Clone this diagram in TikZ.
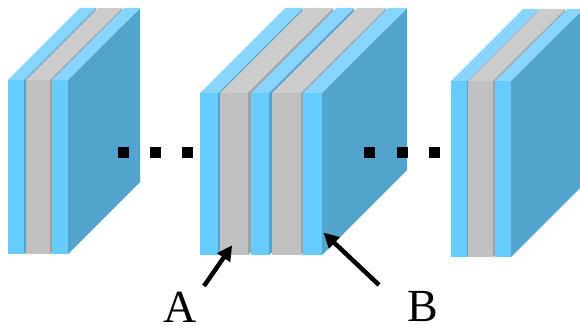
\documentclass[tikz,border=0pt]{standalone}
\usepackage{fontspec}
\setmainfont{Liberation Serif}
\usetikzlibrary{arrows.meta}

\definecolor{blueF}{HTML}{66CCFF}
\definecolor{blueT}{HTML}{88D5FF}
\definecolor{blueS}{HTML}{52A4CD}
\definecolor{grayF}{HTML}{C0C0C0}
\definecolor{grayT}{HTML}{CCCCCC}
\definecolor{grayS}{HTML}{A0A0A0}

% one slab in oblique view: left x, width, top y, bottom y, depth, front/top/side colours
\newcommand\slabbox[8]{%
  \fill[#8] ({#1+#2},#3) -- ({#1+#2+#5},{#3-#5}) -- ({#1+#2+#5},{#4-#5}) -- ({#1+#2},#4) -- cycle;
  \fill[#7] (#1,#3) -- ({#1+#5},{#3-#5}) -- ({#1+#2+#5},{#3-#5}) -- ({#1+#2},#3) -- cycle;
  \fill[#6] (#1,#3) rectangle ({#1+#2},#4);
}
\newcommand\blueslab[5]{\slabbox{#1}{#2}{#3}{#4}{#5}{blueF}{blueT}{blueS}}
\newcommand\grayslab[5]{\slabbox{#1}{#2}{#3}{#4}{#5}{grayF}{grayT}{grayS}}

\tikzset{
  dotsq/.style={fill=black, minimum size=11pt, inner sep=0pt, draw=none},
  pointer/.style={line width=4.5pt, -{Triangle[length=15pt,width=15pt]}, shorten >=-2pt},
  lbl/.style={font=\fontsize{46}{46}\selectfont, inner sep=0pt, anchor=base}
}

\begin{document}
\begin{tikzpicture}[x=1pt,y=-1pt]
\useasboundingbox (0,0) rectangle (580,326);
\clip (0,0) rectangle (580,326);

% left stack
\blueslab{8}{16}{80}{254}{72}
\grayslab{26}{24}{80}{254}{72}
\blueslab{52}{16}{80}{254}{72}

% middle stack
\blueslab{200}{18}{93}{255}{85}
\grayslab{220}{28}{93}{255}{85}
\blueslab{251}{18}{93}{255}{85}
\grayslab{272}{29}{93}{255}{85}
\blueslab{303}{19}{93}{255}{85}

% right stack
\blueslab{451}{16}{81}{257}{72}
\grayslab{468}{25}{81}{257}{72}
\blueslab{495}{16}{81}{257}{72}

% ellipsis dots
\node[dotsq] (d1) at (123.5,152) {};
\node[dotsq] (d2) at (155.5,152) {};
\node[dotsq] (d3) at (187.5,152) {};
\node[dotsq] (d4) at (369.5,152) {};
\node[dotsq] (d5) at (402.5,152) {};
\node[dotsq] (d6) at (434.5,152) {};

% labels and pointers
\node[lbl] (A) at (180,322) {A};
\node[lbl] (B) at (423,321) {B};
\coordinate (atail) at (204,286);
\coordinate (atip) at (231,247);
\coordinate (btail) at (379,285);
\coordinate (btip) at (325,234);
\draw[pointer] (atail) -- (atip);
\draw[pointer] (btail) -- (btip);
\end{tikzpicture}
\end{document}
